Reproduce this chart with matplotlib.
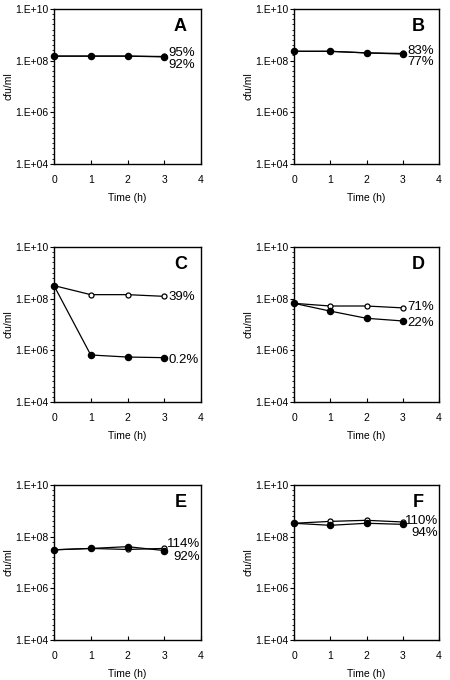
import numpy as np
import matplotlib
matplotlib.use("Agg")
import matplotlib.pyplot as plt
from matplotlib.ticker import FixedLocator

plt.rcParams['font.family'] = ['Liberation Sans', 'DejaVu Sans']

times = [0, 1, 2, 3]
panels = ['A', 'B', 'C', 'D', 'E', 'F']

A_open = [1.5e8, 1.5e8, 1.5e8, 1.45e8]
A_filled = [1.5e8, 1.5e8, 1.5e8, 1.4e8]
B_open = [2.3e8, 2.3e8, 2.0e8, 1.9e8]
B_filled = [2.3e8, 2.3e8, 2.0e8, 1.8e8]
C_open = [3.2e8, 1.43e8, 1.43e8, 1.23e8]
C_filled = [3.2e8, 6.6e5, 5.5e5, 5.2e5]
D_open = [6.6e7, 5.2e7, 5.2e7, 4.4e7]
D_filled = [6.6e7, 3.3e7, 1.74e7, 1.37e7]
E_open = [3.1e7, 3.5e7, 3.2e7, 3.5e7]
E_filled = [3.1e7, 3.5e7, 4.1e7, 2.9e7]
F_open = [3.3e8, 3.9e8, 4.3e8, 3.7e8]
F_filled = [3.3e8, 2.75e8, 3.3e8, 3.0e8]

open_pct = ['95%', '83%', '39%', '71%', '114%', '110%']
filled_pct = ['92%', '77%', '0.2%', '22%', '92%', '94%']

ytick_vals = [1e4, 1e6, 1e8, 1e10]
ytick_labels = ['1.E+04', '1.E+06', '1.E+08', '1.E+10']
xtick_vals = [0, 1, 2, 3, 4]

open_series = [A_open, B_open, C_open, D_open, E_open, F_open]
filled_series = [A_filled, B_filled, C_filled, D_filled, E_filled, F_filled]

# label positions (log10 y)
open_lab_y = [8.3, 8.37, 8.06, 7.68, 7.72, 8.61]
filled_lab_y = [7.83, 7.95, 5.63, 7.04, 7.2, 8.16]

W, H = 450, 680
fig = plt.figure(figsize=(W / 100, H / 100), dpi=100)

# pixel boxes: left, right, top, bottom
boxes = [
    (54, 201, 9, 164),
    (294, 439, 9, 164),
    (54, 201, 247, 402),
    (294, 439, 247, 402),
    (54, 201, 485, 640),
    (294, 439, 485, 640),
]
ylabel_x_px = [9, 249, 9, 249, 9, 249]

for i, (l, r, t, b) in enumerate(boxes):
    ax = fig.add_axes([l / W, (H - b) / H, (r - l) / W, (b - t) / H])
    ax.set_yscale('log')
    ax.set_ylim(1e4, 1e10)
    ax.set_xlim(0, 4)
    ax.plot(times, open_series[i], '-o', color='black', lw=0.9,
            ms=3.6, mfc='white', mec='black', mew=0.9, zorder=3, clip_on=False)
    ax.plot(times, filled_series[i], '-o', color='black', lw=0.9,
            ms=4.4, mfc='black', mec='black', zorder=4, clip_on=False)
    ax.set_yticks(ytick_vals)
    ax.set_yticklabels(ytick_labels)
    ax.yaxis.set_minor_locator(FixedLocator(10 ** np.arange(4, 10.01, 0.2)))
    ax.yaxis.set_minor_formatter(plt.NullFormatter())
    ax.set_xticks(xtick_vals)
    ax.tick_params(axis='y', which='major', direction='out', length=3, width=0.8,
                   labelsize=7.5, pad=1)
    ax.tick_params(axis='y', which='minor', direction='out', length=1.5, width=0.6)
    ax.tick_params(axis='x', which='major', direction='in', length=3, width=0.8,
                   labelsize=7.5, pad=8)
    for s in ax.spines.values():
        s.set_linewidth(1.0)
    ax.set_xlabel('Time (h)', fontsize=7.5, labelpad=6)
    ax.set_ylabel('cfu/ml', fontsize=7.5, va='center')
    ax.yaxis.set_label_coords((ylabel_x_px[i] - l) / (r - l), 0.5)
    ax.text(0.86, 0.89, panels[i], transform=ax.transAxes, fontsize=13,
            fontweight='bold', ha='center', va='center')
    if i >= 4:
        xpos, ha = 3.97, 'right'
    else:
        xpos, ha = 3.12, 'left'
    ax.text(xpos, 10 ** open_lab_y[i], open_pct[i], fontsize=9.5, ha=ha, va='center')
    ax.text(xpos, 10 ** filled_lab_y[i], filled_pct[i], fontsize=9.5, ha=ha, va='center')

fig.savefig('out.png', dpi=100, facecolor='white')
